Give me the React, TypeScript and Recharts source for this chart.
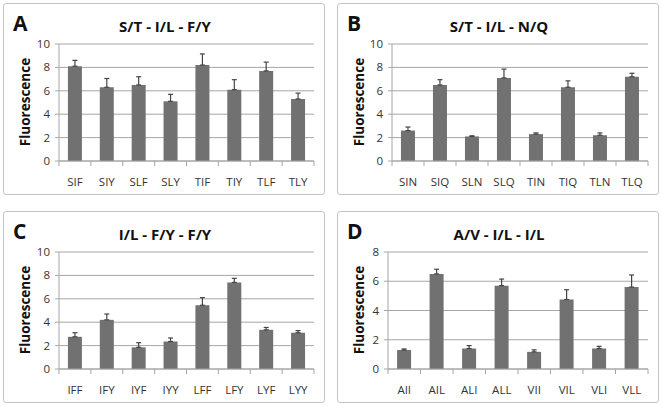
import { BarChart, Bar, XAxis, YAxis, CartesianGrid, ErrorBar } from 'recharts'

const catsA = ['SIF', 'SIY', 'SLF', 'SLY', 'TIF', 'TIY', 'TLF', 'TLY']
const valsA = [8.1, 6.3, 6.5, 5.1, 8.2, 6.1, 7.7, 5.3]
const errA = [0.5, 0.75, 0.7, 0.6, 0.95, 0.85, 0.75, 0.5]

const catsB = ['SIN', 'SIQ', 'SLN', 'SLQ', 'TIN', 'TIQ', 'TLN', 'TLQ']
const valsB = [2.6, 6.5, 2.1, 7.1, 2.3, 6.3, 2.2, 7.2]
const errB = [0.3, 0.45, 0.05, 0.75, 0.1, 0.55, 0.2, 0.3]

const catsC = ['IFF', 'IFY', 'IYF', 'IYY', 'LFF', 'LFY', 'LYF', 'LYY']
const valsC = [2.75, 4.2, 1.85, 2.35, 5.45, 7.4, 3.35, 3.1]
const errC = [0.35, 0.5, 0.4, 0.3, 0.65, 0.35, 0.2, 0.18]

const catsD = ['AII', 'AIL', 'ALI', 'ALL', 'VII', 'VIL', 'VLI', 'VLL']
const valsD = [1.3, 6.5, 1.4, 5.7, 1.17, 4.75, 1.4, 5.6]
const errD = [0.07, 0.32, 0.2, 0.45, 0.14, 0.67, 0.15, 0.83]

const ticks10 = [0, 2, 4, 6, 8, 10]
const ticks8 = [0, 2, 4, 6, 8]

const W = 322
const H = 192
const FONT = '"Open Sans", "Noto Sans", sans-serif'
const GRID = '#a6a6a6'

const XTick = (props: any) => {
  const { x, y, payload, index, step, last } = props
  return (
    <g>
      <line x1={x - step / 2} y1={y - 8} x2={x - step / 2} y2={y - 3} stroke={GRID} />
      {index === last && (
        <line x1={x + step / 2} y1={y - 8} x2={x + step / 2} y2={y - 3} stroke={GRID} />
      )}
      <text x={x} y={y + 17} textAnchor='middle' fontSize={11.5} fill='#333' fontFamily={FONT}>
        {payload.value}
      </text>
    </g>
  )
}

const Panel = ({
  letter,
  title,
  cats,
  vals,
  errs,
  yMax,
  yTicks,
  plotLeft,
  left,
  top,
}: {
  letter: string
  title: string
  cats: string[]
  vals: number[]
  errs: number[]
  yMax: number
  yTicks: number[]
  plotLeft: number
  left: number
  top: number
}) => {
  const data = cats.map((c, i) => ({ name: c, value: vals[i], err: [0, errs[i]] }))
  const plotRight = 311
  const step = (plotRight - plotLeft) / cats.length
  return (
    <div
      style={{
        position: 'absolute',
        left,
        top,
        width: W,
        height: H,
        border: '1px solid #c4c4c4',
        borderRadius: 3,
        boxSizing: 'border-box',
        background: '#fff',
        fontFamily: FONT,
      }}
    >
      <div
        style={{
          position: 'absolute',
          left: 9,
          top: 5,
          fontSize: 21,
          fontWeight: 700,
          color: '#111',
        }}
      >
        {letter}
      </div>
      <div
        style={{
          position: 'absolute',
          left: 0,
          width: W,
          top: 12,
          textAlign: 'center',
          fontSize: 15,
          fontWeight: 700,
          color: '#111',
        }}
      >
        {title}
      </div>
      <div
        style={{
          position: 'absolute',
          left: 21 - 50,
          top: 98 - 10,
          width: 100,
          height: 20,
          lineHeight: '20px',
          textAlign: 'center',
          transform: 'rotate(-90deg)',
          fontSize: 13.5,
          fontWeight: 700,
          color: '#111',
        }}
      >
        Fluorescence
      </div>
      <div style={{ position: 'absolute', left: -1, top: -1 }}>
        <BarChart
          width={W}
          height={H}
          data={data}
          barCategoryGap='28%'
          margin={{ top: 41, right: W - plotRight, left: plotLeft - 30, bottom: 4 }}
        >
          <CartesianGrid vertical={false} stroke={GRID} strokeDasharray='' />
          <XAxis
            dataKey='name'
            height={30}
            axisLine={{ stroke: GRID }}
            tickLine={false}
            interval={0}
            tick={<XTick step={step} last={cats.length - 1} />}
          />
          <YAxis
            width={30}
            domain={[0, yMax]}
            ticks={yTicks}
            axisLine={{ stroke: GRID }}
            tickLine={{ stroke: GRID }}
            tickSize={4}
            tickMargin={5}
            tick={{ fontSize: 11.5, fill: '#333', fontFamily: FONT }}
          />
          <Bar dataKey='value' fill='#717171' isAnimationActive={false}>
            <ErrorBar dataKey='err' width={2.5} stroke='#444' strokeWidth={1.2} direction='y' />
          </Bar>
        </BarChart>
      </div>
    </div>
  )
}

export default function App() {
  return (
    <div style={{ position: 'absolute', left: 0, top: 0, width: 662, height: 407, background: '#fff' }}>
      <Panel letter='A' title='S/T - I/L - F/Y' cats={catsA} vals={valsA} errs={errA} yMax={10} yTicks={ticks10} plotLeft={56} left={3} top={3} />
      <Panel letter='B' title='S/T - I/L - N/Q' cats={catsB} vals={valsB} errs={errB} yMax={10} yTicks={ticks10} plotLeft={55} left={337} top={3} />
      <Panel letter='C' title='I/L - F/Y - F/Y' cats={catsC} vals={valsC} errs={errC} yMax={10} yTicks={ticks10} plotLeft={56} left={3} top={211} />
      <Panel letter='D' title='A/V - I/L - I/L' cats={catsD} vals={valsD} errs={errD} yMax={8} yTicks={ticks8} plotLeft={51} left={337} top={211} />
    </div>
  )
}
